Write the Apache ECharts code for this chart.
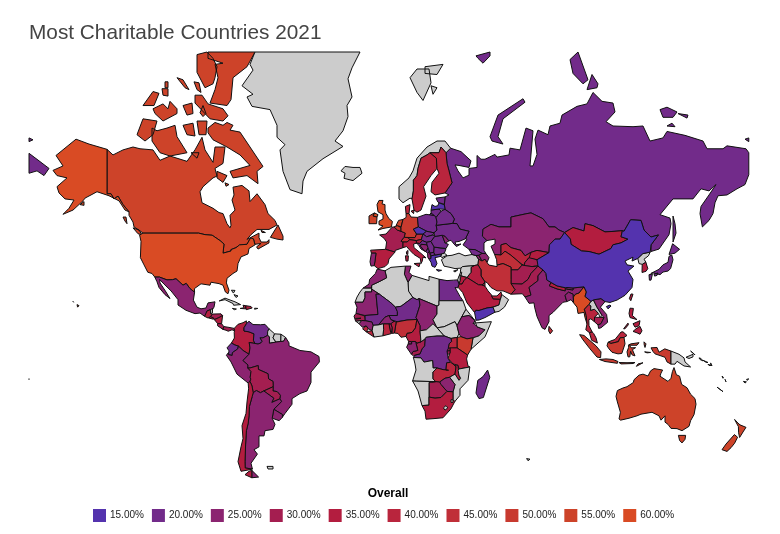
<!DOCTYPE html>
<html>
<head>
<meta charset="utf-8">
<title>Most Charitable Countries 2021</title>
<script src="https://cdn.jsdelivr.net/npm/echarts@6/dist/echarts.min.js"></script>
<style>
html,body{margin:0;padding:0;background:#fff}
#chart{width:780px;height:534px}
</style>
</head>
<body>
<div id="chart"></div>
<script>
// legend steps
var legendValues=[15,20,25,30,35,40,45,50,55,60];
var legendLabels=['15.00%','20.00%','25.00%','30.00%','35.00%','40.00%','45.00%','50.00%','55.00%','60.00%'];
var legendColors=['#5433ae','#722b8a','#8b2470','#a41e50','#b31d3f','#b9253d','#c02f38','#c83a2f','#cd4329','#d94b24'];

// countries per step
var at15=['China','Yemen','Greece','Latvia','Czechia'];
var at20=['Russia','DR Congo','Madagascar','Venezuela','Ecuador','Japan','Egypt','Mali','Niger','Ukraine','Belarus','Slovakia','Hungary','Croatia','Serbia','Bulgaria','North Macedonia','Lithuania','Estonia','Georgia','Montenegro','Poland','Romania'];
var at25=['India','Kazakhstan','Mexico','Brazil','Argentina','Peru','Uruguay','Bangladesh','Vietnam','Chad','Ethiopia','Mauritania','Burkina Faso','Morocco','Tunisia','Guinea','Gabon','Zimbabwe','Moldova','Bosnia','Albania','Portugal','Armenia','Azerbaijan','Bhutan','Equatorial Guinea'];
var at30=['Bolivia','Paraguay','France','Pakistan','Afghanistan','Tajikistan','Congo','Botswana','Senegal','Togo','Honduras','Costa Rica','Panama','Rwanda','Burundi','Cambodia'];
var at35=['Colombia','Chile','Guatemala','Dominican Republic','Haiti','Mongolia','Saudi Arabia','Iraq','Jordan','Kuwait','South Africa','Tanzania','Malawi','Benin','Cameroon','Spain','Italy','Slovenia','Philippines','South Korea','Taiwan','Kyrgyzstan','Nepal','El Salvador','Nicaragua'];
var at40=['Sweden','Finland','Denmark','Uzbekistan','Thailand','Malaysia','Uganda','Ghana','Liberia','Sierra Leone','Zambia','United Arab Emirates'];
var at45=['Iran','Turkmenistan','Switzerland','Austria','Nigeria','Sri Lanka'];
var at50=['Indonesia','Kenya','Germany','Belgium'];
var at55=['Canada','Australia','New Zealand','Ireland','Netherlands'];
var at60=['United States','United Kingdom','Myanmar'];
var groups=[at15,at20,at25,at30,at35,at40,at45,at50,at55,at60];

// country outlines: flat lon,lat rings
var outlines={
'Canada':[[-141,69.6,-138,68.6,-133,69.5,-128,70,-124.5,69.7,-118,69.5,-114.5,67.6,-109.5,68.4,-101,67.4,-97,69.5,-93.5,71.6,-92,69.5,-88,67.2,-87,70,-82,70,-83,67,-87,66,-86,64.4,-88,64,-93,62,-94.5,60.8,-93.5,58,-88,56.5,-85,55.3,-83,55,-81,52,-79.5,50.7,-79,51.5,-79.5,54.5,-77,56,-78.5,58.7,-77.5,60,-78,61.9,-73.5,62.3,-70,61,-69.5,58.3,-66,60.3,-62,57.5,-60.5,55,-57,53,-56,51.6,-60,50.2,-66,50.2,-69,48.5,-71,46.9,-65,49,-64.5,48.8,-65,47.5,-64,46,-61,46,-60,46.8,-60,45.7,-65.5,43.5,-66.2,44.3,-64,45.5,-67,45.2,-67.8,47.1,-69.2,47.4,-71,45.2,-74.7,45,-76.5,44,-79,43.3,-79,42.8,-83,42,-82.5,45.3,-84.5,46.5,-88.4,48.3,-92,48.5,-95.2,49,-123,49,-125,50,-127.5,51,-128,52.5,-130,54.5,-130,55.5,-133,57.5,-135.5,59.7,-137.5,59,-139,60.3,-141,60.3],
[-128,50.7,-125,50,-123.5,48.4,-125.5,48.8],[-133,54,-131.5,54,-131,52,-132,52.8],
[-59.3,47.6,-55.5,51.6,-53,48,-53,46.7,-56,47],[-64,49.9,-61.8,49.2,-63.5,49.2],
[-90.5,81.2,-67,81.2,-71,80,-78,79,-79,76.7,-81,76,-89.5,76.3,-87,77.8,-85.5,79,-87,80.2,-83,80.3,-90.5,80.7],
[-96,81,-91,81.2,-88,80.7,-86,80,-87,79,-88,78.4,-92,78,-96,79.5],
[-106,79,-103,78.8,-100,77.8,-102,78],[-97.5,78.6,-95,78.5,-94,77.5,-96,77.8],[-112,78.6,-110.5,78.6,-110.5,78,-112,78],[-113.5,77.9,-110.5,77.9,-110.5,77.1,-113,77.2],
[-123,76,-118,77.6,-115,77.4,-117.5,76],
[-118,75.6,-113,76.2,-110.5,75.6,-109.5,76.5,-106,75.6,-106,75,-113,74,-117,75],
[-103,76,-98.5,76.3,-98,75,-101,74.8],[-94.5,75.1,-93,76,-91.5,75,-93,74.6],
[-97,77.2,-93.5,77.2,-90.5,76.2,-83,75.6,-80.5,74.7,-83,74,-89.5,74.3,-93.5,75.4,-97,76.3],
[-126,72,-123,74.3,-116,74,-118,72,-122,71],
[-118.5,73,-116,72.6,-111,73,-107,73.4,-106,71.7,-101,69,-109.5,68.4,-114.5,69,-118.5,71],
[-103,73.4,-98,73.7,-97,71.8,-101,72],[-96,74,-91,74,-91.5,72,-95,72],
[-90.5,73,-87,73.8,-83,73.4,-81,73.8,-78,73.4,-79.5,72.7,-74.5,72.4,-69.5,70,-63,66.4,-66,65.4,-65.5,62.7,-71,64.5,-78,64,-79.5,65.4,-69.5,66.6,-74.5,68.6,-81,70,-88,71.2,-90.5,72.3],
[-86,65.4,-81,64.5,-83,63,-86,64],[-99,69,-95,69,-96,68],[-82,62.9,-80,62.5,-81.5,62.1]],
'United States':[[-123,49,-95.2,49,-92,48.5,-88.4,48.3,-84.5,46.5,-82.5,45.3,-83,42,-79,42.8,-79,43.3,-76.5,44,-74.7,45,-71,45.2,-69.2,47.4,-67.8,47.1,-67,45,-70,43.7,-70.5,41.7,-74,40.6,-75.5,38,-76,35,-78,34,-81,32,-81.3,30,-80,26.8,-80.5,25.2,-81.8,26,-83,29,-85,29.7,-89,30.3,-89.5,29,-94,29.6,-97.3,27.5,-97.2,25.9,-99.5,27.5,-101.4,29.8,-103,29,-106.5,31.8,-108.2,31.4,-111,31.3,-114.8,32.5,-117.1,32.5,-118.5,34,-120.6,34.5,-122.5,37.5,-124.3,40.3,-124,46.2,-124.7,48.4],
[-141,69.6,-141,60.3,-139,60.3,-137.5,59,-135.5,59.7,-133,57.5,-130,55.5,-132,56,-135,58.5,-140,59.8,-146,60.8,-149,60,-152,59.2,-153,58.5,-158,56,-163,54.8,-160,56.5,-157.5,58.7,-162,59,-165,60.5,-166,62,-161,64,-166,64.5,-168,65.6,-163,66.5,-166.5,68.5,-156.5,71.3,-150,70.5],
[-154.5,57.5,-152.5,58.3,-152.5,57.3],[-158,21.7,-157.7,21.3,-158.2,21.3],[-156,20.2,-155,19.7,-155.7,19]],
'Mexico':[[-117.1,32.5,-114.8,32.5,-111,31.3,-108.2,31.4,-106.5,31.8,-103,29,-101.4,29.8,-99.5,27.5,-97.2,25.9,-97.8,22.3,-96,19,-94,18.2,-91.5,18.6,-90.5,21,-87,21.5,-87.5,19,-88.2,18,-89.2,17.8,-91,17.2,-91.5,16,-92.2,14.6,-94.5,16.2,-97,15.9,-101.5,17.5,-105.5,20,-105.5,22.5,-109,26.5,-112.5,29.5,-114.7,31.5,-114.5,30,-111.5,26,-109.5,23,-112,24.8,-115,28,-116,30.5]],
'Guatemala':[[-92.2,14.6,-91.5,16,-91,17.2,-89.2,17.8,-89.2,15.9,-88.2,15.7,-89.3,14.4,-90.5,13.8]],
'Belize':[[-89.2,17.8,-88.2,18.4,-88.3,16.2,-89.2,15.9]],
'Honduras':[[-89.3,14.4,-88.2,15.7,-84,15.8,-83.2,15,-85,14,-87.3,13,-87.7,13.8]],
'El Salvador':[[-90.1,13.8,-89.3,14.4,-87.7,13.8,-87.8,13.2]],
'Nicaragua':[[-87.3,13,-85,14,-83.2,15,-83.7,11,-85.7,11.1]],
'Costa Rica':[[-85.7,11.1,-83.7,11,-82.6,9.6,-83,8.2,-85.7,10]],
'Panama':[[-83,8.2,-82.6,9.6,-80,9.2,-77.4,8.7,-77.2,7.5,-78.5,8,-80.4,7.3,-81.5,7.8]],
'Cuba':[[-84.9,21.9,-82,23.2,-77,21.5,-74.2,20.2,-77.7,19.9,-78,20.7,-82,22.5]],
'Dominican Republic':[[-71.7,19.7,-69,19.3,-68.4,18.6,-71.4,17.8,-71.7,18.2]],
'Haiti':[[-73,19.9,-71.7,19.7,-71.7,18.2,-74.4,18.4,-72.5,18.7]],
'Jamaica':[[-78.3,18.4,-76.3,18.1,-77.3,17.8]],
'Puerto Rico':[[-67.2,18.5,-65.6,18.4,-66,18,-67.2,18]],
'Bahamas':[[-78.8,26.8,-77,26.7,-77.8,25.5],[-77.5,24.8,-75.5,24.2,-76.5,23.5]],
'Colombia':[[-77.4,8.7,-75.5,10.7,-73,11.5,-71.3,12.4,-71.3,11,-72.5,9,-72.5,7.4,-70,7,-67.5,6,-67.8,2.8,-67,1.2,-69.9,1.7,-69.5,-1,-70,-4.2,-73,-2.3,-75.3,-0.1,-77,0.4,-78.8,1.4,-77.3,3.9,-77.4,6.8,-77.2,7.5]],
'Venezuela':[[-71.3,11,-71.6,10.8,-70,12.2,-68,10.6,-64.2,10.5,-62,10.7,-60,8.5,-60.7,7,-60.7,5.2,-63,4,-64.5,4,-63.4,2.3,-64,1.5,-65.5,0.9,-67,1.2,-67.8,2.8,-67.5,6,-70,7,-72.5,7.4,-72.5,9]],
'Guyana':[[-60,8.5,-57.2,6,-58,4,-56.5,1.9,-59.8,1.3,-59.8,4.5,-60.7,5.2,-60.7,7]],
'Suriname':[[-57.2,6,-54,5.8,-54.1,2.2,-56.5,1.9,-58,4]],
'French Guiana':[[-54,5.8,-51.7,4.2,-52.7,2.3,-54.1,2.2]],
'Ecuador':[[-78.8,1.4,-77,0.4,-75.3,-0.1,-75.6,-1.5,-78.3,-3.4,-78.4,-4.8,-80.3,-4.4,-80,-2.5,-81,-1]],
'Peru':[[-81.3,-4.7,-80.3,-3.4,-80.3,-4.4,-78.4,-4.8,-78.3,-3.4,-75.6,-1.5,-75.3,-0.1,-73,-2.3,-70,-4.2,-73,-7.3,-70.5,-9.5,-70.6,-11,-69,-12.7,-69.4,-15.5,-69.1,-16.4,-69.5,-17.5,-70.4,-18.3,-76,-14,-79,-8]],
'Brazil':[[-51.7,4.2,-50,1.5,-50,0,-44.5,-2.3,-39,-3,-35,-5.3,-34.8,-8,-39,-13,-39,-18,-41,-22,-44.5,-23.2,-48.5,-25.5,-48.5,-28,-52,-32,-53.4,-33.7,-53.2,-32.5,-57.6,-30.2,-53.7,-26.8,-54.6,-25.6,-54.3,-24,-55.9,-22.3,-58,-22,-57.9,-20,-58,-17.5,-60.2,-16.3,-60.5,-13.8,-65.3,-11.7,-65.4,-9.8,-69.5,-11,-70.6,-11,-70.5,-9.5,-73,-7.3,-70,-4.2,-69.5,-1,-69.9,1.7,-67,1.2,-65.5,0.9,-64,1.5,-63.4,2.3,-64.5,4,-63,4,-60.7,5.2,-59.8,4.5,-59.8,1.3,-56.5,1.9,-54.1,2.2,-52.7,2.3]],
'Bolivia':[[-69.5,-11,-65.4,-9.8,-65.3,-11.7,-60.5,-13.8,-60.2,-16.3,-58,-17.5,-57.9,-20,-62.6,-22,-64.3,-22.8,-66.3,-21.8,-67.9,-22.8,-68.5,-19.7,-69.5,-17.5,-69.1,-16.4,-69.4,-15.5,-69,-12.7,-70.6,-11]],
'Paraguay':[[-57.9,-20,-58,-22,-55.9,-22.3,-54.3,-24,-54.6,-25.6,-58.6,-27.2,-57.6,-25.3,-62.6,-22]],
'Uruguay':[[-58.4,-34,-57.6,-30.2,-53.2,-32.5,-53.4,-33.7,-54.9,-35]],
'Argentina':[[-66.3,-21.8,-64.3,-22.8,-62.6,-22,-57.6,-25.3,-58.6,-27.2,-54.6,-25.6,-53.7,-26.8,-57.6,-30.2,-58.4,-34,-57,-36.5,-58,-38.5,-62,-39,-62.5,-41,-65,-41,-65,-45,-67.5,-46,-65.8,-47.5,-69,-50.5,-68.3,-52.3,-71.9,-52,-72,-50,-71.7,-44,-71.3,-39,-70.4,-36,-70,-33,-69.8,-29,-68.4,-24.5,-67.9,-22.8],[-68.6,-52.7,-65.2,-54.7,-68.6,-54.9]],
'Chile':[[-70.4,-18.3,-69.5,-17.5,-68.5,-19.7,-67.9,-22.8,-68.4,-24.5,-69.8,-29,-70,-33,-70.4,-36,-71.3,-39,-71.7,-44,-72,-50,-71.9,-52,-68.3,-52.3,-69.5,-52.5,-74,-53,-75.5,-50,-74,-45,-73,-42,-73.5,-37,-71.5,-32,-71,-27,-70.2,-21],[-68.6,-52.7,-68.6,-54.9,-72,-54,-70,-53]],
'Falkland Islands':[[-61,-51.5,-58,-51.5,-58,-52.3,-60.5,-52.3]],
'Greenland':[[-67,81.2,-14.5,81.2,-18.5,79.9,-20.5,78.9,-18.5,77,-21,76,-20.5,74.6,-23,72.6,-27,71,-23,70.1,-33,67.9,-41,65.4,-43,63.3,-43.5,60.3,-49.5,61.3,-53,65.4,-54.5,69.5,-52,70.4,-56,71.6,-56,73.4,-59.5,75.5,-68.5,75.9,-71,77,-68,77.3,-73.5,78.2,-68,79.7,-69.5,80.2]],
'Iceland':[[-24,65.5,-22,66.4,-18,66.2,-14.5,66.2,-13.5,65,-18,63.4,-22.5,63.9,-22,65]],
'Svalbard':[[10.5,79,14,79.8,20,79.8,21,78.5,17,76.6,14,77.5],[18,80,27,80.2,24,79.3,18,79.4],[21,78.2,24,78,22,77.3]],
'Russia':[[30.8,69.8,36,69.2,41,67.5,40,66.2,35,66.6,33,66.7,34.5,65.5,37,64,40,64.6,40,66,44,66.2,44,68.5,46,67.8,48,67.8,53,68.7,54,68.2,60,68.6,60.5,69.8,65.5,69.5,68.5,73,72,72.6,70.5,66.5,72,66.5,74,68.7,73,71.3,74.5,72.7,79.5,72,80.5,73.3,85.5,73.7,86.5,74.8,94,75.9,99,76.2,102,77.5,106.5,76.5,112,76.3,113,75.2,108.5,73.9,112,73.3,122,73.2,127,73.3,130.5,71,137,71.5,139,72.5,148,71.9,157,71,159,69.7,167,69.7,169,70.2,178.5,69.7,179.9,69,179.9,64.7,178,62.5,174,61.5,169,60,164.5,59.8,163,58,162,55,160,53,156.7,51,155.5,55,156,57,160,60,163.5,62.5,160,61,156,61.5,152,59,142,59,135.5,54.7,140.5,53.7,141,52,140,48.5,135,43.5,131,42.6,130.6,42.4,131,45,134.7,48.4,131,47.7,127.5,50,126,53,120.8,53.2,117.5,49.6,116.7,49.8,113,49.6,108,49.4,102,51.4,98,52,97.5,49.7,92,50.8,87.8,49.2,85,50,83,51,80,51,77,53.5,71,55.2,69,55,61,54,61,51,55,51,51,51.8,47,50.3,46.7,48,49,46.5,47.5,45.7,47.5,43,48.5,41.8,46.5,41.9,43,43.3,40,43.4,37,45,39,47,38.2,47.1,40,49.6,35.5,50.3,34,52,31.8,52.1,32.7,53.4,31,55,28,56.2,27.7,57.4,28,59.5,30,60,28,60.5,31.5,62.9,30,65.5,29,67,28.5,69],
[-180,68.9,-175,67.5,-170,66,-172.5,64.5,-176,65.5,-180,65],[-180,71.5,-178,71.2,-180,70.9],[178,71.3,179.9,71.5,179.9,70.9],
[43.5,80.9,50.5,81.2,50.5,80.9,47,80.3,44.5,80.7],[90.5,80.6,94.5,81.2,99.5,78.8,97,78.4,92,79.4],[99,77.8,101.5,79.3,104.5,78.4,104,78],
[50.5,71.7,54.5,74.8,67,76.8,68,76.4,57,74.3,54.5,71.7,57,70.5,51.5,71],
[135.5,75.5,139,75.8,144,75.2,142,74.5,137,74.5],[144.5,75,149.5,74.8,149,74.4],[139,73.3,141.5,73.7,143,73.2],
[142,54.3,143,52,143.5,49,142,46,142,50],[20,54.5,22.8,54.4,21,55.2]],
'Norway':[[5,59,7,58,10.5,59.2,11.5,59,12.2,61,12.2,63.5,14,64.5,14.5,66,16,68,19,68.6,20.5,69,25,69,26,70,28.5,69,30.8,69.8,28,71,24,71,19,70,14,68,12,65.5,10,64,5,62]],
'Sweden':[[11.5,59,12.5,56,14,55.4,16,56,18.5,59.7,17.3,62,21,64.5,24,66,23.7,68,20.5,69,19,68.6,16,68,14.5,66,14,64.5,12.2,63.5,12.2,61]],
'Finland':[[21,60.8,23,60,28,60.5,31.5,62.9,30,65.5,29,67,28.5,69,26,70,25,69,20.5,69,23.7,68,24,66,25,65,21.5,63]],
'Denmark':[[8.2,57,10.5,57.5,10,55,8.5,55],[11,55.7,12.5,56,12.3,55]],
'United Kingdom':[[-5.5,50,-3,50.5,1.2,51,1.7,52.7,0,53.5,-1.5,55,-2,56,-2,57.5,-3.5,57.7,-3,58.6,-5,58.6,-6,57.5,-5.5,55.5,-3,54.7,-3,53.4,-5,52.8,-5,51.7,-3,51.3],[-7.3,55.2,-5.5,54.7,-6,54,-8,54.3]],
'Ireland':[[-10,52,-6.2,52,-6,54,-8,54.3,-7.3,55.2,-10,54.3]],
'France':[[-4.7,48.4,-1.5,48.7,1.5,50.9,2.5,51,4.2,50,6,49.6,8.2,49,7.6,47.6,6,46.3,7,46,7,44,7.5,43.8,3.1,43,3,42.4,-1.7,43.4,-1.2,46,-2.5,47.3],[8.7,42.5,9.5,43,9.4,41.5,8.8,41.6]],
'Spain':[[-9.2,43.1,-1.7,43.4,3,42.4,0,39.8,-0.5,38,-2,36.8,-5.5,36,-7.4,37.2,-7,39,-6.5,42,-8.8,42]],
'Portugal':[[-8.8,42,-6.5,42,-7,39,-7.4,37.2,-9,37,-9.5,38.7]],
'Belgium':[[2.5,51,4.2,51.4,6,50.8,6,49.6,4.2,50]],
'Netherlands':[[3.5,51.4,4.8,53,7,53.3,6,51,6,50.8,4.2,51.4]],
'Germany':[[6,50.8,6,51,7,53.3,8.6,53.9,8.5,55,10,55,11,54,14.2,53.9,14.7,51,12.2,50.3,13.8,48.7,13,47.5,7.6,47.6,8.2,49,6,49.6]],
'Switzerland':[[6,46.3,7.6,47.6,9.6,47.5,10.4,46.8,9,46,7,46]],
'Austria':[[9.6,47.5,13,47.5,13.8,48.7,17,48.7,16.2,46.9,13.7,46.5,10.4,46.8]],
'Italy':[[7,44,7,46,9,46,10.4,46.8,13.7,46.5,13.7,45.6,12.3,45.3,12.5,44,16,41.9,18.5,40.2,17,40.5,16.6,38.9,16,38,15.7,40,12.5,41.5,10.5,43,8.8,44.4],[12.5,38,15.6,38.2,15,36.7],[8.2,41,9.7,41,9.5,39,8.5,39]],
'Poland':[[14.2,53.9,18.5,54.8,23,54.4,23.5,53.9,24,52.5,23.6,51.5,24,50,22.5,49.1,18.8,49.6,14.7,51]],
'Czechia':[[12.2,50.3,14.7,51,18.8,49.6,17,48.7,13.8,48.7]],
'Slovakia':[[17,48.7,18.8,49.6,22.5,49.1,22,48.4,18.8,47.8]],
'Hungary':[[16.2,46.9,17,48.7,18.8,47.8,22,48.4,22.9,47.9,21,46.2,18.8,45.9,16.6,46.5]],
'Slovenia':[[13.7,45.6,13.7,46.5,16.2,46.9,16.6,46.5,15.4,45.5]],
'Croatia':[[13.7,45.6,15.4,45.5,16.6,46.5,18.8,45.9,19,45,16,45.2,15.8,44.5,17.5,43,18.5,42.5,16,43.5,14.8,45]],
'Bosnia':[[16,45.2,19,45,19.5,44,18.5,42.6,17.5,43,15.8,44.5]],
'Serbia':[[18.8,45.9,21,46.2,22.6,44.3,22.4,42.3,20.6,42,20,43,19.5,44,19,45]],
'Montenegro':[[18.5,42.5,19.2,43.5,20,43,20,42.5,19.3,41.9]],
'Albania':[[19.3,41.9,20,42.5,20.8,41,21,40,20,39.7,19.4,40.5]],
'North Macedonia':[[20.6,42,22.4,42.3,23,41.3,21,41]],
'Greece':[[21,40,21,41,23,41.3,26.3,41.7,26,40.8,23,40.3,24,38,23,36.5,21.5,37,21,38.5,20,39.7],[23.6,35.6,26.3,35.3,24.7,34.9]],
'Bulgaria':[[22.4,42.3,22.6,44.2,28.5,43.6,27.7,42,26.3,41.7,23,41.3]],
'Romania':[[22.9,47.9,26.6,48.3,28.1,45.6,29.7,45.2,28.5,43.7,22.6,44.2,21,46.2]],
'Moldova':[[26.6,48.3,28,48,30,46.4,28.1,45.6]],
'Ukraine':[[23.6,51.5,31.8,52.1,34,52,35.5,50.3,40,49.6,38.2,47.1,35,46.2,33,46,33.5,45,36,45.3,33.7,44.4,32.5,45.3,31,46.6,30,46.4,28,48,26.6,48.3,22.9,47.9,22.5,49.1,24,50]],
'Belarus':[[23.6,51.5,24,52.5,23.5,53.9,26,55.7,28,56.2,31,55,32.7,53.4,31.8,52.1]],
'Lithuania':[[21,55.2,22.8,54.4,23.5,53.9,26,55.7,25,56.3,21,56]],
'Latvia':[[21,56,25,56.3,28,56.2,27.7,57.4,25,58,24.4,57.2,23,57,21.5,57.5]],
'Estonia':[[23.5,59.2,28,59.5,27.7,57.6,25,58,24.4,58.2]],
'Turkey':[[26.2,39.5,29,41,31.5,41.2,35,42,38,41,41.5,41.5,43.5,41.1,44.8,39.7,44.5,37.5,42.5,37.2,36.7,36.8,36,36.2,33,36,30.5,36.5,27.5,37],[26.3,41.7,27.7,42,29,41.2,26.4,40.3,26,40.8]],
'Cyprus':[[32.3,35,34.5,35.6,33,34.6]],
'Georgia':[[40,43.4,43,43.3,46.5,41.9,45,41.2,43.5,41.1,41.5,41.5]],
'Armenia':[[43.5,41.1,45,41.2,46.5,39,44.8,39.7]],
'Azerbaijan':[[45,41.2,46.5,41.9,48.5,41.8,50,40.3,49,38.4,48,39.7,46.5,39]],
'Kazakhstan':[[46.7,48,47,50.3,51,51.8,55,51,61,51,61,54,69,55,71,55.2,77,53.5,80,51,83,51,85,50,87.8,49.2,85.5,47,83,47,80.2,45,80,42.2,74,43,71,42.3,68,41,66,43,61,44,58.5,45.5,56,45,56,41.3,52.8,41.5,51,44.5,53,45.3,53,47,49,46.5]],
'Uzbekistan':[[56,45,58.5,45.5,61,44,66,43,68,41,71,42.3,73,40.7,70,40.3,68,38.5,67.5,37.2,64.5,38.9,61,41.2,58,42.7,56,41.3]],
'Turkmenistan':[[52.8,41.5,56,41.3,58,42.7,61,41.2,64.5,38.9,66.5,37.4,64.5,35.5,61,35.5,61,36.6,57,38,54,37.4,53.8,39.5]],
'Kyrgyzstan':[[71,42.3,74,43,80,42.2,74,39.5,70,40]],
'Tajikistan':[[68,38.5,70,40.3,74,39.5,75,37.3,71.5,36.8,67.5,37.2]],
'Afghanistan':[[61,35.5,64.5,35.5,66.5,37.4,71.5,36.8,74.5,37,71,34,69.5,31.5,66.5,29.5,61,29.7,61,31.5]],
'Pakistan':[[61,25,66.7,25.2,68,23.7,71,24.6,70,28,74.5,31,74.5,33,77,35.5,74.5,37,71,34,69.5,31.5,66.5,29.5,61,29.7,63,27]],
'Iran':[[44.8,39.7,46.5,39,48,39.7,49,38.4,50,37.4,54,36.8,54,37.4,57,38,61,36.6,61,35.5,61,31.5,61,29.7,63,27,61,25,57,26.5,54,26.5,51,28,49,30.2,48,30.4,46,33,46,35.5,44.5,37.5]],
'Iraq':[[42.5,37.2,44.5,37.5,46,35.5,46,33,48,30.4,48,30,46.5,29.1,44.7,29.2,39,32.3,41,34.5,41,36.5]],
'Syria':[[36,36.2,36.7,36.8,42.5,37.2,41,36.5,41,34.5,39,32.3,36,33,35.7,35]],
'Lebanon':[[35.1,33.1,36,33.3,36.4,34.5,35.8,34.6]],
'Jordan':[[35,29.5,36.5,29.5,37.5,31,39,32.3,36,33,35.6,32.7,35.5,31]],
'Israel':[[34.3,31.3,35,29.5,35.5,31,35.6,33.2,35,33]],
'Saudi Arabia':[[35,29.5,36.5,29.5,37.5,31,39,32.3,44.7,29.2,46.5,29.1,48,28.6,49.5,26.5,51.3,24.6,51.3,24.2,52,22.9,55.7,22.7,55,20,52,19,49,18.6,45,17.4,43.4,17.5,42.8,16.4,39,21,36.8,25.8,34.6,28]],
'Yemen':[[42.8,16.4,43.4,17.5,45,17.4,49,18.6,52,19,53,16.6,48,14,45,12.8,43.5,12.7]],
'Oman':[[52,19,55,20,55.7,22.7,56.3,24.9,59.8,22.5,57.7,19,55,17,53,16.6]],
'United Arab Emirates':[[51.3,24.2,52,22.9,55.7,22.7,56.3,24.9,56,26,54,24.2]],
'Kuwait':[[46.5,29.1,48,30,48,28.6]],
'Egypt':[[25,31.6,29,31,32.3,31.2,34.2,31.3,35,29.5,34.3,27.8,33,28,35.5,24,37,22,25,22]],
'Libya':[[11.5,33.2,15,32.3,20,31,20,32.8,25,31.6,25,20,24,19.5,15,23,14,22.5,11.9,23.5,9.8,26.3,9.5,30.2]],
'Tunisia':[[8.2,37,11,37,10,34.5,11.5,33.2,9.5,30.2,7.7,33.7]],
'Algeria':[[-8.7,27.3,-8.7,29,-5,30.5,-1.2,32.2,-2,35.1,1,36.5,8.2,37,7.7,33.7,9.5,30.2,9.8,26.3,11.9,23.5,6,19.4,3.2,19,1,21,-4.8,25]],
'Morocco':[[-5.9,35.8,-2,35.1,-1.2,32.2,-5,30.5,-8.7,29,-8.7,27.7,-13,27.7,-10,29.5,-9.7,31.5,-6.8,34]],
'Western Sahara':[[-13,27.7,-8.7,27.7,-8.7,26,-12,26,-12,23.4,-13,21.3,-17,21.3,-16,23.7,-14.5,26]],
'Mauritania':[[-17,21.3,-13,21.3,-12,23.4,-12,26,-8.7,26,-8.7,27.3,-4.8,25,-6.5,25,-5.5,15.5,-12,15,-12.2,14.8,-16.5,16,-16,19]],
'Mali':[[-12,15,-5.5,15.5,-6.5,25,-4.8,25,1,21,3.2,19,4.2,16.9,4.2,15,0,15,-2,14.2,-5.3,10.4,-8,10.2,-8.5,11.8,-12,12.5]],
'Niger':[[4.2,15,4.2,16.9,3.2,19,6,19.4,11.9,23.5,14,22.5,15,23,15.5,20,13.5,14,14,13.1,9,12.8,4,12,3.6,11.8,0.9,13,0,15]],
'Chad':[[15,23,24,19.5,24,15.7,22,13,24,9,18.7,8,15.5,7.5,15.5,10,14,13.1,13.5,14,15.5,20]],
'Sudan':[[24,19.5,25,20,25,22,37,22,38.5,18,36.4,14.4,34,10,33,12,27.5,9.5,24,9,22,13,24,15.7]],
'South Sudan':[[24,9,27.5,9.5,33,12,34,10,35,6,34,4.2,31,3.7,27.5,5,24.5,8.5]],
'Eritrea':[[36.4,14.4,38.5,18,43,12.5,40,15]],
'Ethiopia':[[34,10,36.4,14.4,40,15,43,12.5,42.5,11,44,9.5,48,8,45,5,42,4,39,3.5,36,4.5,35,6]],
'Djibouti':[[42,11,43.3,11.5,43,12.5]],
'Somalia':[[41,-1.7,42,4,45,5,48,8,44,9.5,43.3,11.4,51.2,12,48,4.5]],
'Kenya':[[34,4.2,35.9,4.6,39,3.5,42,4,41,-1.7,39.3,-4.6,34,-1,34,1]],
'Uganda':[[31,3.7,34,4.2,34,-1,29.6,-1.4,30,1,31.3,2.2]],
'Tanzania':[[30.5,-1,34,-1,39.3,-4.6,38.8,-6.5,39.5,-10,40.4,-10.5,35,-11.5,34.5,-9.7,32,-9,29.5,-6.2,30.5,-3.5]],
'Rwanda':[[29,-1.4,30.5,-1,30.5,-2.4,29,-2.6]],
'Burundi':[[29,-2.6,30.5,-2.4,30.5,-3.5,29.3,-4.5]],
'DR Congo':[[12.2,-5.8,13,-4.6,15.5,-4,16.5,-1.5,17.8,0,18,3.5,18.6,4.4,24,5,27.5,5,31,3.7,31.3,2.2,30,1,29.6,-1.4,29,-2.6,29.3,-4.5,29.5,-6.2,30.7,-8.2,28.8,-8.5,28.5,-12,29.8,-12.1,27,-11.8,24,-11,22,-11,21.8,-7.3,17.5,-8.1,16,-6]],
'Congo':[[11.2,-4.2,12.2,-5,13,-4.6,15.5,-4,16.5,-1.5,17.8,0,18,3.5,16,2,14,1.4,13.3,2.2,14.4,-2.3,12,-2.8]],
'Gabon':[[9.6,1,11.3,1,11.3,2.2,13.3,2.2,14.4,-2.3,12,-2.8,11.2,-4.2,8.8,-0.7]],
'Equatorial Guinea':[[9.6,1,11.3,1,11.3,2.2,9.8,2.2]],
'Cameroon':[[8.5,4.7,9.8,2.2,11.3,2.2,13.3,2.2,14,1.4,16,2,15.5,7.5,15.5,10,14,13.1,13.5,11,13.2,9,11.5,6.7,9,6.3]],
'Central African Republic':[[15.5,7.5,18.7,8,22,11,24,9,27.5,5,24,5,18.6,4.4,18,3.5,16,2]],
'Nigeria':[[2.7,6.4,3.6,11.8,4,12,9,12.8,14,13.1,13.5,11,13.2,9,11.5,6.7,9,6.3,8.5,4.7,6,4.3,4.5,6.2]],
'Benin':[[1.6,6.2,2.7,6.4,3.6,11.8,2.5,12.2,0.9,11,1.6,9]],
'Togo':[[1.1,6.1,1.6,6.2,1.6,9,0.9,11,0,11,0.5,8]],
'Ghana':[[-3.1,5,1.1,6.1,0.5,8,0,11,-2.8,11,-2.7,8]],
'Burkina Faso':[[-5.3,10.4,-2.8,11,0,11,0.9,11,2.5,12.2,0.9,13,0,15,-2,14.2]],
'Ivory Coast':[[-7.5,4.4,-3.1,5,-2.7,8,-2.8,11,-5.3,10.4,-8,10.2,-8.5,7.6]],
'Liberia':[[-11.4,7,-8.5,7.6,-7.5,4.4]],
'Sierra Leone':[[-13.2,8.5,-11.4,10,-10.3,8.5,-11.4,7]],
'Guinea':[[-15,11,-13.7,12.6,-12,12.5,-8.5,11.8,-8,10.2,-8.5,7.6,-10.3,8.5,-11.4,10,-13.2,9.2]],
'Guinea-Bissau':[[-16.7,12.3,-13.7,12.6,-15,11]],
'Senegal':[[-17.5,14.7,-16.5,16,-12.2,14.8,-12,12.5,-13.7,12.6,-16.7,12.3]],
'Gambia':[[-16.8,13.6,-14,13.7,-14,13.3,-16.8,13.2]],
'Angola':[[12.2,-5.8,16,-6,17.5,-8.1,21.8,-7.3,22,-11,24,-11,22,-13,22,-16.3,23.4,-17.6,13.9,-17.4,11.8,-17.3,13.5,-12,13,-9]],
'Zambia':[[22,-13,24,-11,27,-11.8,29.8,-12.1,28.5,-12,28.8,-8.5,30.7,-8.2,32,-9,33.5,-10.5,33,-14,30.3,-15.5,28,-16,25.3,-17.8,23.4,-17.6,22,-16.3]],
'Malawi':[[33,-9.5,34.5,-9.7,35,-14.5,35.8,-16,35,-17,33,-14,33.5,-10.5]],
'Mozambique':[[40.4,-10.5,35,-11.5,34.5,-12,35,-14.5,35.8,-16,35,-17,33,-14,30.3,-15.5,33,-19,32,-22.4,32,-26,32.9,-26.8,35.5,-24,35.5,-21,39.5,-17]],
'Zimbabwe':[[25.3,-17.8,28,-16,30.3,-15.5,33,-19,32,-22.4,29,-22.2,26,-19]],
'Botswana':[[20,-18,23.4,-17.6,25.3,-17.8,26,-19,29,-22.2,26,-25,23,-25.3,20,-24.8,20,-22]],
'Namibia':[[11.8,-17.3,13.9,-17.4,23.4,-17.6,20,-18,20,-22,20,-28.4,16.5,-28.6,14.5,-22]],
'South Africa':[[16.5,-28.6,20,-28.4,20,-24.8,23,-25.3,26,-25,29,-22.2,32,-22.4,32,-26,32.9,-26.8,31,-30,27,-33.8,22,-34.2,18.5,-34.4,18,-31]],
'Lesotho':[[27.2,-29.6,28.5,-28.6,29.4,-29.6,28,-30.6]],
'Eswatini':[[31,-26,32,-26,32,-27.2,31,-27.2]],
'Madagascar':[[49.3,-12,50.4,-15.5,47.2,-25,45,-25.5,43.5,-23,44.4,-17,47,-15.2]],
'India':[[68,23.7,71,24.6,70,28,74.5,31,74.5,33,77,35.5,78.5,34,78.9,31.3,81,30.2,80.2,28.7,84,27.4,88.1,26.5,88.1,27.9,88.8,27.3,92,26.9,92,27.8,97.5,28.3,95,25.5,93.3,25,92.2,23.7,92,25,89.8,25.9,88,24.5,88.9,21.6,87,21.3,82,16.5,80,15,80,12,78,8.2,76.5,9,74,14.5,72.8,19,72.5,21,70,20.8,69,22.3]],
'Nepal':[[80.2,28.7,81,30.2,84,28.7,88.1,27.9,88.1,26.5,84,27.4]],
'Bhutan':[[88.8,27.3,89,28,92,27.8,92,26.9]],
'Bangladesh':[[88,24.5,89.8,25.9,92,25,92.3,21,91,22.5,88.9,21.6]],
'Myanmar':[[92.3,21,92.2,23.7,93.3,25,95,25.5,97.5,28.3,98.7,26,98,24,101,21.7,100,20.3,97.7,18,98.6,15,99,11,98,14,97.5,16.5,94.5,16,94,19]],
'Thailand':[[97.7,18,100,20.3,101,19.5,100.7,17.5,102.8,18,104.7,16,102.8,14.2,102.7,12,100.9,13.4,99.9,13,100,10,101.6,6.9,100.2,6.6,98.4,8,99,11,98.6,15]],
'Laos':[[101,21.7,102.2,22.4,104,19,106.6,15,105.5,14.1,104.7,16,102.8,18,100.7,17.5,101,19.5,100,20.3]],
'Cambodia':[[102.8,14.2,105.5,14.1,107.5,14,106,11,104.5,10.4,102.7,12]],
'Vietnam':[[102.2,22.4,106,23,108,21.6,105.7,19,108.8,15.5,109.3,11.7,106,9,104.8,8.7,104.5,10.4,106,11,107.5,14,106.6,15,104,19]],
'Malaysia':[[100.2,6.6,101.6,6.9,102.3,6.2,103.5,4,104.2,1.4,101.3,2.8],[109.5,1.8,111,1.2,114.7,2.1,115.5,4,117.5,4.2,119,5.2,117,7,116,6.9,113,3.2,111,2.5]],
'Indonesia':[[95.3,5.6,97.5,5.2,103.5,0,106,-3,105.8,-5.9,104,-5.6,100.5,-1.5,97,3],[105.2,-6.8,108.5,-6.5,112,-6.8,114.5,-7.8,114.2,-8.7,108,-7.8],[109,0,109.5,1.8,111,1.2,114.7,2.1,115.5,4,117.5,4.2,118,1,116.4,-3.8,114.5,-4,111.5,-3.2,110,-1.5],[119.8,0.5,121,1,125,1.6,124,0.3,120.3,0.3,121,-1,123.3,-0.9,121.7,-1.9,123,-5,121.5,-4.5,120.8,-2.7,120.4,-5.5,119.5,-5.5,119,-3,119.8,-0.8],[115,-8.3,119,-8.4,123,-8.3,122,-8.8,116,-9],[123.7,-10.2,127,-8.4,124.5,-9],[127.5,2,128.5,1,128,-0.8,127.6,0.5],[127.8,-3,130.8,-3.3,129,-3.5],[131,-1,134,-0.8,135,-3.2,137.9,-1.5,141,-2.6,141,-9.1,139,-8,138,-5.7,133,-4,132,-2.8]],
'Papua New Guinea':[[141,-2.6,145,-4.2,147.5,-6,148,-8,150.8,-10.5,147.5,-10,144,-7.7,143,-9.1,141,-9.1],[148.5,-5.7,152,-4.2,152,-5.5,150,-6.3],[150.8,-2.6,153,-4.5,152.5,-4]],
'Solomon Islands':[[155,-6,156,-6.3,157,-7.5,155.5,-6.8],[157,-7.2,159.5,-8.3,158.5,-8.2],[159.5,-9.2,161,-9.7,160,-9.8],[160.8,-8.5,161.5,-10,161,-9.5]],
'Vanuatu':[[166.5,-15,167.2,-15.5,167,-16,166.6,-15.8],[168,-16.5,168.5,-17.7,168.2,-17.7]],
'New Caledonia':[[164,-20.2,167,-22.3,166.5,-22.5]],
'Fiji':[[177.2,-17.5,178.7,-17.7,178,-18.3],[178.8,-16.5,179.9,-16.3,179,-17]],
'Fiji East':[[-180,-16.2,-179.7,-16.3,-180,-16.6]],
'Philippines':[[120.5,18.5,122.2,18.4,121.7,15,124,13,120.5,14,120,16],[122,7.2,123.5,8.5,125.5,9.7,126.5,7.5,125.5,5.8,124,6.5],[117.3,8.5,119.5,11.3,119.7,10.5,118,8.5],[122,11,125.5,12.5,125,10,123,9.3]],
'Taiwan':[[121,25.1,122,25,120.9,22,120.2,23]],
'Japan':[[130.9,34,135,35.7,137,37.5,139.5,38.5,140,40.8,141.4,41.3,142,39.5,140.8,36,139.5,35,137,34.6,135.5,33.5,132.5,34.2],[140,41.5,141.8,45.4,145.3,43.4,143,42],[130,33.5,131.7,33.7,131,31.2,130.2,31.2],[132.5,33.8,134.5,34.2,134,33.2,132.8,32.9]],
'South Korea':[[126.6,37.7,128.4,38.6,129.4,36,128.5,34.9,126.5,34.4]],
'North Korea':[[124.4,40,126.9,41.8,130.6,42.4,129.7,41,127.5,39.7,128.4,38.6,126.6,37.7,125,38]],
'Mongolia':[[87.8,49.2,92,50.8,97.5,49.7,98,52,102,51.4,108,49.4,113,49.6,116.7,49.8,116,47.8,119.5,47,116,45.7,111.9,45,111,43.7,105,41.6,100,42.6,96.3,42.8,91,45.2,90.7,47]],
'China':[[74,39.5,80,42.2,80.2,45,83,47,85.5,47,87.8,49.2,90.7,47,91,45.2,96.3,42.8,100,42.6,105,41.6,111,43.7,111.9,45,116,45.7,119.5,47,116,47.8,116.7,49.8,117.5,49.6,120.8,53.2,126,53,127.5,50,131,47.7,134.7,48.4,131,45,130.6,42.4,126.9,41.8,124.4,40,121.5,39,122,40.5,118,39,119,37.5,122.5,37,119.5,35,122,31.5,121.5,28,118,24.5,114,22.3,110.5,21.2,108,21.6,106,23,102.2,22.4,101,21.7,98,24,98.7,26,97.5,28.3,92,27.8,89,28,88.1,27.9,84,28.7,81,30.2,78.9,31.3,78.5,34,77,35.5,74.5,37,75,37.3],[108.7,19.3,110.5,20,111,19.5,109.5,18.2]],
'Sri Lanka':[[80,9.7,81.8,7.5,80.6,6,79.8,7.5]],
'Australia':[[114.2,-21.8,117,-20.6,119,-20,122.2,-18,122.5,-16.7,125,-14.5,127,-14,129.5,-14.9,130.8,-12.4,132.5,-11.3,136.8,-12,136,-13.5,135.5,-15,139.5,-17.5,141,-16,141.7,-12.8,142.5,-10.8,143.7,-14.3,145.3,-15,146.3,-18.9,149,-20.5,150.8,-23.5,153,-25.5,153.5,-28,152.5,-32.5,150.8,-35,150,-37.3,146.5,-39,144,-38.2,141,-38.1,139.5,-36.5,138,-35.6,138,-33,136,-34.8,135,-33,131.5,-31.5,126,-32.3,124,-33,120,-34,115.8,-34.8,115,-34.3,115.7,-31.5,114.2,-27,113.5,-24.5],[144.7,-40.8,148.3,-40.8,148,-42.3,146.5,-43.6,145.3,-42.7]],
'New Zealand':[[172.8,-34.5,174.5,-36,175.5,-36.7,178.5,-37.7,177,-39.5,175.3,-41.6,174.8,-39.8,174.7,-37.4],[172.7,-40.5,174.3,-41.5,172.8,-43.7,171,-45.3,169,-46.6,166.5,-46,168.5,-44]],
'Kerguelen':[[68.8,-49,70.5,-49.2,69.5,-49.7]]
};

// turn the outlines into geojson
var features=[];
for(var name in outlines){
    var polys=[];
    for(var i=0;i<outlines[name].length;i++){
        var flat=outlines[name][i],ring=[];
        for(var j=0;j<flat.length;j+=2){
            ring.push([flat[j],flat[j+1]]);
        }
        ring.push([flat[0],flat[1]]);
        polys.push([ring]);
    }
    features.push({type:'Feature',properties:{name:name},geometry:{type:'MultiPolygon',coordinates:polys}});
}
echarts.registerMap('world',{type:'FeatureCollection',features:features});

var seriesData=[];
for(var g=0;g<groups.length;g++){
    for(var k=0;k<groups[g].length;k++){
        seriesData.push({name:groups[g][k],value:legendValues[g]});
    }
}
var pieces=[];
for(var p=0;p<legendValues.length;p++){
    pieces.push({value:legendValues[p],label:legendLabels[p],color:legendColors[p]});
}

var D=180/Math.PI;
var mercator={
    project:function(pt){
        return [pt[0],-D*Math.log(Math.tan(Math.PI/4+pt[1]/D/2))];
    },
    unproject:function(pt){
        return [pt[0],D*(2*Math.atan(Math.exp(-pt[1]/D))-Math.PI/2)];
    }
};

var chart=echarts.init(document.getElementById('chart'),null,{renderer:'canvas'});
chart.setOption({
    animation:false,
    backgroundColor:'#fff',
    title:[
        {text:'Most Charitable Countries 2021',left:24,top:18,textStyle:{fontFamily:'Liberation Sans',fontSize:20.8,fontWeight:'normal',color:'#444444'}},
        {text:'Overall',left:383,top:483,textAlign:'center',textStyle:{fontFamily:'Liberation Sans',fontSize:12,fontWeight:'bold',color:'#000'}}
    ],
    visualMap:{
        type:'piecewise',
        orient:'horizontal',
        left:78,
        top:494,
        itemWidth:13,
        itemHeight:13,
        itemGap:8,
        itemSymbol:'rect',
        textGap:4,
        selectedMode:false,
        hoverLink:false,
        pieces:pieces,
        outOfRange:{color:'#cccccc'},
        textStyle:{fontFamily:'Liberation Sans',fontSize:10,color:'#222'}
    },
    series:[{
        type:'map',
        map:'world',
        projection:mercator,
        boundingCoords:[[-180,81.2],[180,-57.2]],
        left:29,
        top:52,
        width:720,
        height:434,
        aspectScale:1,
        roam:false,
        silent:true,
        label:{show:false},
        itemStyle:{areaColor:'#cccccc',borderColor:'#111',borderWidth:1},
        data:seriesData
    }]
});
</script>
</body>
</html>
